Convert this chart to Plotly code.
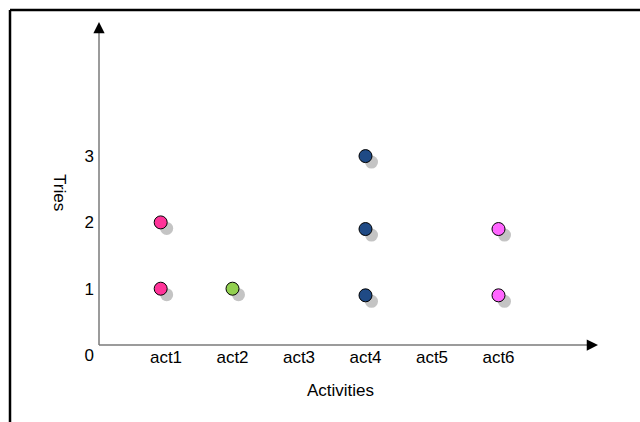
import plotly.graph_objects as go

# ---------------- data ----------------
categories = ["act1", "act2", "act3", "act4", "act5", "act6"]
category_pos = [1, 2, 3, 4, 5, 6]
y_ticks = [0, 1, 2, 3]

act1_x = [0.92, 0.92]
act1_tries = [2.0, 1.0]
act2_x = [2.0]
act2_tries = [1.0]
act4_x = [4.0, 4.0, 4.0]
act4_tries = [3.0, 1.9, 0.9]
act6_x = [6.0, 6.0]
act6_tries = [1.9, 0.9]

series = [
    ("act1", act1_x, act1_tries, "#ff3399"),
    ("act2", act2_x, act2_tries, "#92d050"),
    ("act4", act4_x, act4_tries, "#1f4a85"),
    ("act6", act6_x, act6_tries, "#ff66ff"),
]

# ---------------- layout geometry (pixels) ----------------
W, H = 640, 422
PL, PR, PT, PB = 99, 600, 20, 366   # plot area
PW, PH = PR - PL, PB - PT
SH = 6                               # shadow offset px


def px(x):
    return (x - PL) / PW


def py(y):
    return (PB - y) / PH


XR = [-0.5 / 66.5, 494.5 / 66.5]
YR = [-5 / 66.3, 335 / 66.3]
FONT = "Liberation Sans, Arial, sans-serif"

fig = go.Figure()

# shadows (subplot xy, drawn first)
for name, xs, ys, col in series:
    fig.add_trace(go.Scatter(
        x=xs, y=ys, mode="markers", xaxis="x", yaxis="y",
        marker=dict(size=13, color="#c4c4c4", line=dict(width=0)),
        showlegend=False, hoverinfo="skip"))

# visible points (subplot x2y2)
for name, xs, ys, col in series:
    fig.add_trace(go.Scatter(
        x=xs, y=ys, mode="markers", xaxis="x2", yaxis="y2", name=name,
        marker=dict(size=13, color=col, line=dict(width=1, color="#000000")),
        showlegend=False))

shapes = [
    # frame (left / top)
    dict(type="line", xref="paper", yref="paper", x0=px(10), y0=py(10), x1=px(10), y1=py(430),
         line=dict(color="#000000", width=2.5)),
    dict(type="line", xref="paper", yref="paper", x0=px(10), y0=py(10), x1=px(645), y1=py(10),
         line=dict(color="#000000", width=2.5)),
    # axis lines
    dict(type="line", xref="paper", yref="paper", x0=px(99), y0=py(345), x1=px(99), y1=py(30),
         line=dict(color="#7a7a7a", width=1.5)),
    dict(type="line", xref="paper", yref="paper", x0=px(99), y0=py(345), x1=px(588), y1=py(345),
         line=dict(color="#7a7a7a", width=1.5)),
]

annotations = [
    dict(xref="paper", yref="paper", x=px(99), y=py(22), ax=0, ay=12, text="",
         showarrow=True, arrowhead=2, arrowsize=1.5, arrowwidth=1.5, arrowcolor="#000000", standoff=0),
    dict(xref="paper", yref="paper", x=px(598), y=py(345), ax=-12, ay=0, text="",
         showarrow=True, arrowhead=2, arrowsize=1.5, arrowwidth=1.5, arrowcolor="#000000", standoff=0),
    dict(xref="paper", yref="paper", x=px(60), y=py(192), text="Tries", textangle=90,
         xanchor="center", yanchor="middle",
         showarrow=False, font=dict(family=FONT, size=17, color="#000000")),
    dict(xref="paper", yref="paper", x=px(340), y=py(390), text="Activities",
         xanchor="center", yanchor="middle",
         showarrow=False, font=dict(family=FONT, size=17, color="#000000")),
]

fig.update_layout(
    width=W, height=H,
    margin=dict(l=PL, r=W - PR, t=PT, b=H - PB, pad=0),
    paper_bgcolor="#ffffff",
    plot_bgcolor="rgba(0,0,0,0)",
    font=dict(family=FONT, size=17, color="#000000"),
    showlegend=False,
    xaxis=dict(domain=[SH / PW, 1], range=XR, visible=False, fixedrange=True),
    yaxis=dict(domain=[0, 1 - SH / PH], range=YR, visible=False, fixedrange=True),
    xaxis2=dict(domain=[0, 1 - SH / PW], range=XR, anchor="free", position=py(345),
                tickvals=category_pos, ticktext=categories, showgrid=False, zeroline=False,
                showline=False, ticks="", ticklabelstandoff=0,
                tickfont=dict(family=FONT, size=17, color="#000000")),
    yaxis2=dict(domain=[SH / PH, 1], range=YR, anchor="x2",
                tickvals=y_ticks, ticktext=[str(v) for v in y_ticks], showgrid=False, zeroline=False,
                showline=False, ticks="", ticklabelstandoff=4,
                tickfont=dict(family=FONT, size=17, color="#000000")),
    shapes=shapes,
    annotations=annotations,
)

fig.write_html("out.html", config={"displayModeBar": False},
               post_script="document.body.style.margin='0px';")
